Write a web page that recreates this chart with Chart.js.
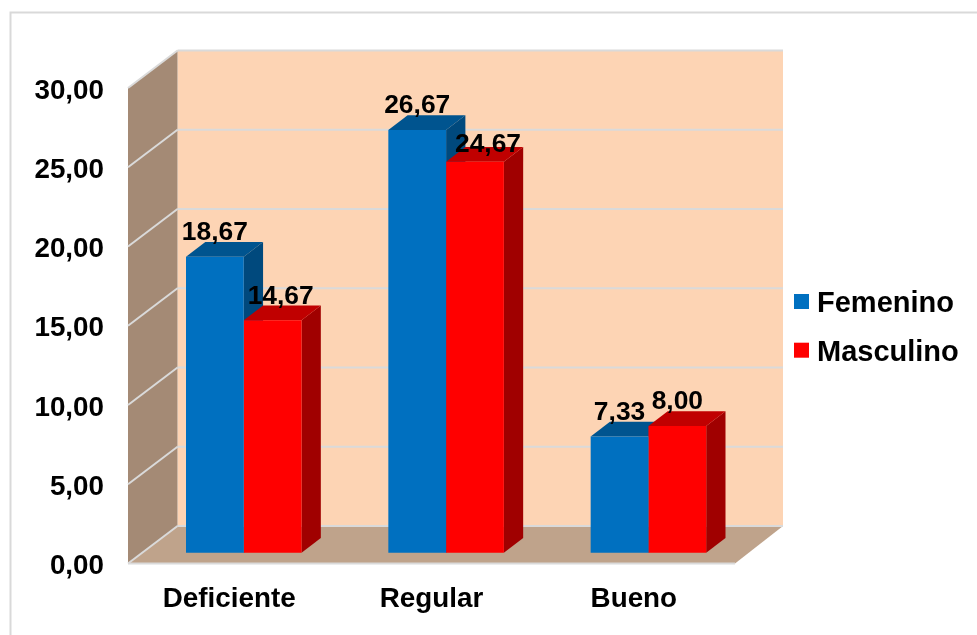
<!DOCTYPE html>
<html>
<head>
<meta charset="utf-8">
<title>Femenino / Masculino</title>
<script src="https://cdn.jsdelivr.net/npm/chart.js@4"></script>
<style>
  html, body { margin: 0; padding: 0; background: #fff; overflow: hidden; }
  canvas { display: block; }
</style>
</head>
<body>
<canvas id="barChart" width="977" height="635"></canvas>
<script>
const categories = ['Deficiente', 'Regular', 'Bueno'];
const femenino = [18.67, 26.67, 7.33];
const masculino = [14.67, 24.67, 8.00];
const yTicks = [0, 5, 10, 15, 20, 25, 30];

const FONT = '"Liberation Sans", Arial, sans-serif';
const formatValue = v => v.toFixed(2).replace('.', ',');

// depth of the walls and of the bars, and where the bars stand on the floor
const wall = { dx: 49.5, dy: -37.5 };
const barDepth = { dx: 19.3, dy: -14.7 };
const barShift = { dx: 14.6, dy: -10.8 };

const sideColors = ['#00497D', '#A00000'];
const topColors = ['#00548F', '#C00000'];

function polygon(ctx, points, fill) {
  ctx.beginPath();
  points.forEach((p, i) => (i ? ctx.lineTo(p[0], p[1]) : ctx.moveTo(p[0], p[1])));
  ctx.closePath();
  ctx.fillStyle = fill;
  ctx.fill();
}

function line(ctx, x1, y1, x2, y2) {
  ctx.beginPath();
  ctx.moveTo(x1, y1);
  ctx.lineTo(x2, y2);
  ctx.stroke();
}

// outer frame + the 3d box behind the bars
const boxPlugin = {
  id: 'box3d',
  beforeDraw(chart) {
    const { ctx, chartArea: a, scales: { y } } = chart;
    const backLeft = a.left + wall.dx;
    const backRight = a.right + wall.dx - 1.5;
    const backTop = a.top + wall.dy;
    const backBottom = a.bottom + wall.dy;
    ctx.save();

    ctx.strokeStyle = '#D9D9D9';
    ctx.lineWidth = 2;
    ctx.strokeRect(10.5, 12.5, 1200, 900);

    polygon(ctx, [[backLeft, backTop], [backRight, backTop], [backRight, backBottom], [backLeft, backBottom]], '#FDD4B4');
    polygon(ctx, [[a.left, a.top], [backLeft, backTop], [backLeft, backBottom], [a.left, a.bottom]], '#A48A75');
    polygon(ctx, [[a.left, a.bottom], [backLeft, backBottom], [backRight, backBottom], [a.right, a.bottom]], '#BFA38B');

    ctx.strokeStyle = '#DADADA';
    ctx.lineWidth = 2;
    yTicks.forEach(t => {
      const py = y.getPixelForValue(t);
      line(ctx, a.left, py, backLeft, py + wall.dy);
      line(ctx, backLeft, py + wall.dy, backRight, py + wall.dy);
    });
    line(ctx, a.left, a.bottom, a.right, a.bottom);
    ctx.restore();
  },
  beforeDatasetsDraw(chart) {
    const { ctx } = chart;
    ctx.save();
    ctx.translate(barShift.dx, barShift.dy);
    // sides and tops go first, the library paints the fronts over them
    chart.data.datasets.forEach((ds, i) => {
      chart.getDatasetMeta(i).data.forEach(bar => {
        const r = bar.x + bar.width / 2;
        const l = bar.x - bar.width / 2;
        polygon(ctx, [[r, bar.y], [r + barDepth.dx, bar.y + barDepth.dy], [r + barDepth.dx, bar.base + barDepth.dy], [r, bar.base]], sideColors[i]);
        polygon(ctx, [[l, bar.y], [l + barDepth.dx, bar.y + barDepth.dy], [r + barDepth.dx, bar.y + barDepth.dy], [r, bar.y]], topColors[i]);
      });
    });
  },
  afterDatasetsDraw(chart) {
    const { ctx } = chart;
    ctx.restore();

    // value labels
    ctx.save();
    ctx.font = 'bold 26.4px ' + FONT;
    ctx.fillStyle = '#000';
    ctx.textAlign = 'center';
    ctx.textBaseline = 'alphabetic';
    chart.data.datasets.forEach((ds, i) => {
      chart.getDatasetMeta(i).data.forEach((bar, j) => {
        let ox = 0;
        let oy = -16.5;
        // these two were moved by hand in the original so they clear the blue bar
        if (i === 1 && j === 0) { ox = 8; }
        if (i === 1 && j === 1) { ox = 13; oy = -9.5; }
        ctx.fillText(formatValue(ds.data[j]), bar.x + barShift.dx + ox, bar.y + barShift.dy + oy);
      });
    });
    ctx.restore();
  },
  afterDraw(chart) {
    // legend, drawn here because the gap after the swatch is tighter than the built-in one
    const { ctx } = chart;
    ctx.save();
    ctx.font = 'bold 29px ' + FONT;
    ctx.textBaseline = 'alphabetic';
    chart.data.datasets.forEach((ds, i) => {
      const top = 294 + i * 48.7;
      ctx.fillStyle = ds.backgroundColor;
      ctx.fillRect(794, top, 15, 15);
      ctx.fillStyle = '#000';
      ctx.fillText(ds.label, 817, top + 18);
    });
    ctx.restore();
  }
};

const ctx = document.getElementById('barChart').getContext('2d');

new Chart(ctx, {
  type: 'bar',
  data: {
    labels: categories,
    datasets: [
      { label: 'Femenino', data: femenino, backgroundColor: '#0070C0', clip: false },
      { label: 'Masculino', data: masculino, backgroundColor: '#FF0000', clip: false }
    ]
  },
  options: {
    responsive: false,
    animation: false,
    layout: { padding: { top: 88, right: 242, bottom: 0, left: 0 } },
    datasets: { bar: { categoryPercentage: 0.571, barPercentage: 1 } },
    plugins: {
      legend: { display: false },
      tooltip: { enabled: false }
    },
    scales: {
      x: {
        grid: { display: false },
        border: { display: false },
        afterFit: scale => { scale.height = 71.5; },
        ticks: {
          padding: 11,
          maxRotation: 0,
          color: '#000',
          font: { family: FONT, size: 27.8, weight: 'bold' }
        }
      },
      y: {
        min: 0,
        max: 30,
        grid: { display: false, drawTicks: false },
        border: { display: false },
        afterFit: scale => { scale.width = 128; },
        afterBuildTicks: scale => { scale.ticks = yTicks.map(v => ({ value: v })); },
        ticks: {
          padding: 24,
          labelOffset: 3,
          color: '#000',
          font: { family: FONT, size: 27.8, weight: 'bold' },
          callback: v => formatValue(v)
        }
      }
    }
  },
  plugins: [boxPlugin]
});
</script>
</body>
</html>
